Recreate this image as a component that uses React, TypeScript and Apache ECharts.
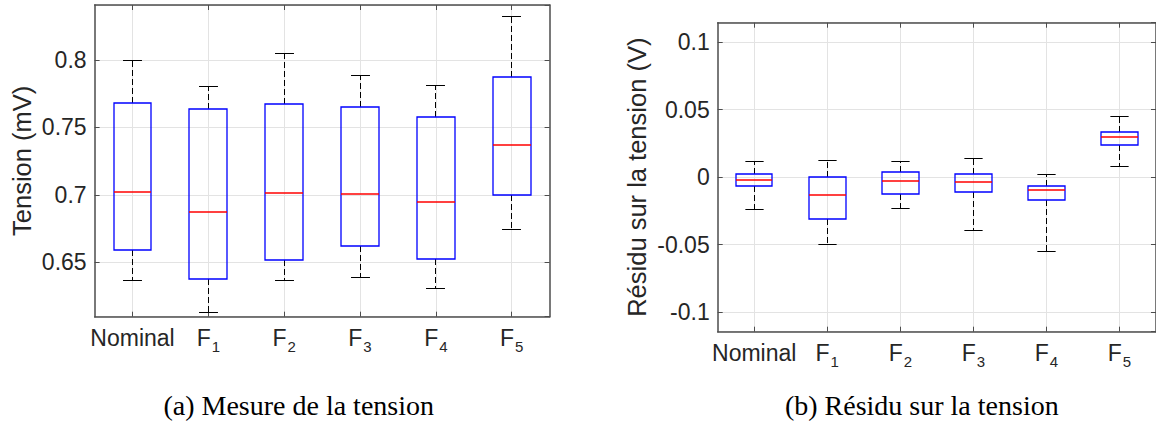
import React, { useEffect, useRef } from "react";
import * as echarts from "echarts";

const categories = ["Nominal", "F1", "F2", "F3", "F4", "F5"];

// (a) Mesure de la tension (mV)
const mesureLow = [0.6364, 0.6129, 0.6369, 0.6389, 0.6307, 0.6745];
const mesureQ1 = [0.6593, 0.6374, 0.6515, 0.6621, 0.6524, 0.6999];
const mesureMedian = [0.7024, 0.6871, 0.7012, 0.7004, 0.6945, 0.7368];
const mesureQ3 = [0.7679, 0.7637, 0.7674, 0.7654, 0.7575, 0.7872];
const mesureHigh = [0.8, 0.7807, 0.805, 0.7884, 0.7809, 0.8321];

// (b) Résidu sur la tension (V)
const residuLow = [-0.0237, -0.0496, -0.0233, -0.0398, -0.0553, 0.0079];
const residuQ1 = [-0.0067, -0.0311, -0.0126, -0.0111, -0.017, 0.0239];
const residuMedian = [-0.0018, -0.0133, -0.003, -0.0037, -0.0096, 0.0296];
const residuQ3 = [0.0027, 0.0, 0.0037, 0.0022, -0.0064, 0.0338];
const residuHigh = [0.0119, 0.0123, 0.0113, 0.0138, 0.0017, 0.0447];

const mesureRange = [0.6097, 0.8408];
const residuRange = [-0.1145, 0.1145];

const yTitleA = "Tension (mV)";
const yTitleB = "Résidu sur la tension (V)";
const captionA = "(a) Mesure de la tension";
const captionB = "(b) Résidu sur la tension";

const FONT = "'Liberation Sans', Arial, Helvetica, sans-serif";
const SERIF = "'Liberation Serif', 'Times New Roman', serif";
const TEXT = "#262626";
const FRAME = "#4d4d4d";
const GRIDC = "#e3e3e3";

function buildRows(lo: number[], q1: number[], med: number[], q3: number[], hi: number[]) {
  return categories.map((_, i) => [i, lo[i], q1[i], med[i], q3[i], hi[i]]);
}

const snapHalf = (v: number) => Math.round(v - 0.5) + 0.5;
const snapInt = (v: number) => Math.round(v);

function renderBox(params: any, api: any) {
  const idx = api.value(0);
  const pLo = api.coord([idx, api.value(1)]);
  const pQ1 = api.coord([idx, api.value(2)]);
  const pMed = api.coord([idx, api.value(3)]);
  const pQ3 = api.coord([idx, api.value(4)]);
  const pHi = api.coord([idx, api.value(5)]);
  const band = api.size([1, 0])[0];
  const bw = band * 0.5;
  const cw = bw * 0.5;
  const cx = snapHalf(pMed[0]);
  const x0 = snapInt(pMed[0] - bw / 2);
  const x1 = snapInt(pMed[0] + bw / 2);
  const yHi = snapHalf(pHi[1]);
  const yLo = snapHalf(pLo[1]);
  const yQ3 = snapInt(pQ3[1]);
  const yMed = snapInt(pMed[1]);
  const yQ1 = snapInt(pQ1[1]);
  const dash = { stroke: "#000", lineWidth: 1, lineDash: [6, 3] };
  const solid = { stroke: "#000", lineWidth: 1 };
  return {
    type: "group",
    children: [
      { type: "line", shape: { x1: cx, y1: yQ3, x2: cx, y2: yHi }, style: dash },
      { type: "line", shape: { x1: cx, y1: yQ1, x2: cx, y2: yLo }, style: dash },
      { type: "line", shape: { x1: cx - cw / 2, y1: yHi, x2: cx + cw / 2, y2: yHi }, style: solid },
      { type: "line", shape: { x1: cx - cw / 2, y1: yLo, x2: cx + cw / 2, y2: yLo }, style: solid },
      {
        type: "rect",
        shape: { x: x0, y: yQ3, width: x1 - x0, height: yQ1 - yQ3 },
        style: { stroke: "#0000ff", fill: "none", lineWidth: 1.3 },
      },
      {
        type: "line",
        shape: { x1: x0, y1: yMed, x2: x1, y2: yMed },
        style: { stroke: "#ff0000", lineWidth: 1.3 },
      },
    ],
  };
}

function labelFormatter(v: string) {
  if (v.startsWith("F")) return `{m|F}{s|${v.slice(1)}}`;
  return `{m|${v}}`;
}

const rich = {
  m: { fontSize: 23, fontFamily: FONT, color: TEXT, verticalAlign: "top", lineHeight: 26 },
  s: { fontSize: 15, fontFamily: FONT, color: TEXT, verticalAlign: "top", padding: [12, 0, 0, 1] },
};

function xAxes(gridIndex: number) {
  return [
    {
      type: "category",
      gridIndex,
      data: categories,
      position: "bottom",
      axisLine: { show: true, onZero: false, lineStyle: { color: FRAME, width: 1.5 } },
      axisTick: { show: true, inside: true, length: 5, alignWithLabel: true, interval: 0, lineStyle: { color: FRAME } },
      axisLabel: { show: true, interval: 0, margin: 10, formatter: labelFormatter, rich },
      splitLine: { show: true, interval: 0, alignWithLabel: true, lineStyle: { color: GRIDC, width: 1 } },
    },
    {
      type: "category",
      gridIndex,
      data: categories,
      position: "top",
      axisLine: { show: true, onZero: false, lineStyle: { color: FRAME, width: 1.5 } },
      axisTick: { show: true, inside: true, length: 5, alignWithLabel: true, interval: 0, lineStyle: { color: FRAME } },
      axisLabel: { show: false },
      splitLine: { show: false },
    },
  ];
}

function yAxes(gridIndex: number, range: number[], name: string, nameGap: number) {
  return [
    {
      type: "value",
      gridIndex,
      position: "left",
      min: range[0],
      max: range[1],
      splitNumber: 5,
      name,
      nameLocation: "middle",
      nameGap,
      nameTextStyle: { fontSize: 25.5, fontFamily: FONT, color: TEXT },
      axisLine: { show: true, onZero: false, lineStyle: { color: FRAME, width: 1.5 } },
      axisTick: { show: true, inside: true, length: 5, lineStyle: { color: FRAME } },
      axisLabel: {
        show: true,
        showMinLabel: false,
        showMaxLabel: false,
        margin: 8,
        fontSize: 23,
        fontFamily: FONT,
        color: TEXT,
      },
      splitLine: { show: true, lineStyle: { color: GRIDC, width: 1 } },
    },
    {
      type: "value",
      gridIndex,
      position: "right",
      min: range[0],
      max: range[1],
      splitNumber: 5,
      axisLine: { show: true, onZero: false, lineStyle: { color: FRAME, width: 1.5 } },
      axisTick: { show: true, inside: true, length: 5, lineStyle: { color: FRAME } },
      axisLabel: { show: false },
      splitLine: { show: false },
    },
  ];
}

export default function App() {
  const ref = useRef<HTMLDivElement>(null);
  useEffect(() => {
    if (!ref.current) return;
    const chart = echarts.init(ref.current, null, { renderer: "svg" });
    const option: any = {
      animation: false,
      backgroundColor: "#ffffff",
      grid: [
        { left: 94.6, top: 5, width: 455, height: 311.7, containLabel: false },
        { left: 717.7, top: 22.7, width: 448.8, height: 309, containLabel: false },
      ],
      xAxis: [...xAxes(0), ...xAxes(1)],
      yAxis: [
        ...yAxes(0, mesureRange, yTitleA, 60),
        ...yAxes(1, residuRange, yTitleB, 68),
      ],
      series: [
        {
          type: "custom",
          xAxisIndex: 0,
          yAxisIndex: 0,
          silent: true,
          renderItem: renderBox,
          encode: { x: 0, y: [1, 2, 3, 4, 5] },
          data: buildRows(mesureLow, mesureQ1, mesureMedian, mesureQ3, mesureHigh),
          z: 5,
        },
        {
          type: "custom",
          xAxisIndex: 2,
          yAxisIndex: 2,
          silent: true,
          renderItem: renderBox,
          encode: { x: 0, y: [1, 2, 3, 4, 5] },
          data: buildRows(residuLow, residuQ1, residuMedian, residuQ3, residuHigh),
          z: 5,
        },
      ],
      graphic: [
        {
          type: "text",
          x: 298.7,
          y: 405,
          style: {
            text: captionA,
            textAlign: "center",
            textVerticalAlign: "middle",
            fontSize: 28,
            fontFamily: SERIF,
            fill: "#000",
          },
        },
        {
          type: "text",
          x: 921.8,
          y: 405,
          style: {
            text: captionB,
            textAlign: "center",
            textVerticalAlign: "middle",
            fontSize: 28,
            fontFamily: SERIF,
            fill: "#000",
          },
        },
      ],
    };
    chart.setOption(option);
    return () => chart.dispose();
  }, []);
  return (
    <div
      ref={ref}
      style={{ position: "absolute", left: 0, top: 0, width: 1156, height: 421, background: "#fff" }}
    />
  );
}
